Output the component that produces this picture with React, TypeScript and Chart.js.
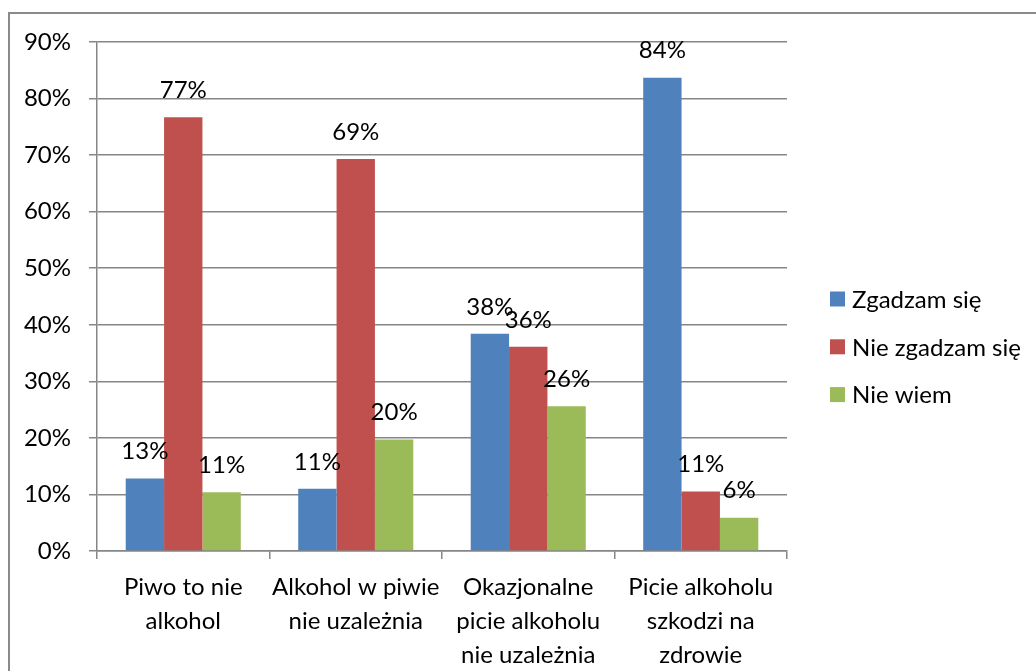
import React, { useEffect, useRef } from "react";
import { Chart, registerables } from "chart.js";

Chart.register(...registerables);

const categories: string[][] = [
  ["Piwo to nie", "alkohol"],
  ["Alkohol w piwie", "nie uzależnia"],
  ["Okazjonalne", "picie alkoholu", "nie uzależnia"],
  ["Picie alkoholu", "szkodzi na", "zdrowie"],
];
const seriesNames = ["Zgadzam się", "Nie zgadzam się", "Nie wiem"];
const seriesColors = ["#4F81BD", "#C0504D", "#9BBB59"];
const agree = [12.8, 11.0, 38.4, 83.7];
const disagree = [76.7, 69.3, 36.1, 10.5];
const dontKnow = [10.4, 19.7, 25.6, 5.9];
const labelsAgree = ["13%", "11%", "38%", "84%"];
const labelsDisagree = ["77%", "69%", "36%", "11%"];
const labelsDontKnow = ["11%", "20%", "26%", "6%"];
const yTicks = [0, 10, 20, 30, 40, 50, 60, 70, 80, 90];

const FONT = "Lato, 'Open Sans', sans-serif";
const FONT_SIZE = 24;
const GRID = "#868686";

const dataLabelPlugin = {
  id: "dataLabels",
  afterDatasetsDraw(chart: any) {
    const ctx = chart.ctx;
    ctx.save();
    ctx.font = `${FONT_SIZE}px ${FONT}`;
    ctx.fillStyle = "#000";
    ctx.textAlign = "center";
    ctx.textBaseline = "middle";
    chart.data.datasets.forEach((ds: any, di: number) => {
      const meta = chart.getDatasetMeta(di);
      meta.data.forEach((el: any, i: number) => {
        ctx.fillText(ds.valueLabels[i], el.x, el.y - 27);
      });
    });
    ctx.restore();
  },
};

const legendPlugin = {
  id: "customLegend",
  afterDraw(chart: any) {
    const ctx = chart.ctx;
    ctx.save();
    ctx.font = `${FONT_SIZE}px ${FONT}`;
    ctx.textAlign = "left";
    ctx.textBaseline = "middle";
    const x0 = 830;
    const yStart = 299;
    const step = 47.8;
    chart.data.datasets.forEach((ds: any, i: number) => {
      const cy = yStart + i * step;
      ctx.fillStyle = ds.backgroundColor;
      ctx.fillRect(x0, cy - 7.5, 15, 15);
      ctx.fillStyle = "#000";
      ctx.fillText(ds.label, x0 + 22, cy + 1);
    });
    ctx.restore();
  },
};

export default function App() {
  const ref = useRef<HTMLCanvasElement>(null);
  useEffect(() => {
    if (!ref.current) return;
    const mk = (i: number, data: number[], lbls: string[]) => ({
      label: seriesNames[i],
      data,
      valueLabels: lbls,
      backgroundColor: seriesColors[i],
      borderWidth: 0,
      categoryPercentage: 0.667,
      barPercentage: 1.0,
    });
    const chart = new Chart(ref.current, {
      type: "bar",
      data: {
        labels: categories as any,
        datasets: [
          mk(0, agree, labelsAgree),
          mk(1, disagree, labelsDisagree),
          mk(2, dontKnow, labelsDontKnow),
        ] as any,
      },
      options: {
        animation: false,
        responsive: false,
        devicePixelRatio: 1,
        layout: { padding: { top: 42, right: 249, left: 0, bottom: 0 } },
        plugins: {
          legend: { display: false },
          tooltip: { enabled: false },
        },
        scales: {
          x: {
            grid: {
              offset: true,
              drawOnChartArea: false,
              drawTicks: true,
              tickLength: 8,
              color: GRID,
              lineWidth: 1.5,
            },
            border: { color: GRID, width: 1.5 },
            ticks: {
              color: "#000",
              font: { family: FONT, size: FONT_SIZE, lineHeight: 1.42 },
              padding: 11,
              maxRotation: 0,
              autoSkip: false,
            },
            afterFit: (s: any) => {
              s.height = 120;
            },
          },
          y: {
            min: 0,
            max: 90,
            afterBuildTicks: (s: any) => {
              s.ticks = yTicks.map((v) => ({ value: v }));
            },
            grid: {
              color: GRID,
              lineWidth: 1.5,
              tickLength: 8,
              drawTicks: true,
            },
            border: { color: GRID, width: 1.5 },
            ticks: {
              color: "#000",
              font: { family: FONT, size: FONT_SIZE },
              padding: 18,
              callback: (v: any) => `${v}%`,
            },
            afterFit: (s: any) => {
              s.width = 97;
            },
          },
        },
      },
      plugins: [dataLabelPlugin, legendPlugin],
    } as any);
    return () => chart.destroy();
  }, []);
  return (
    <div
      style={{
        position: "fixed",
        left: 0,
        top: 0,
        width: 1036,
        height: 671,
        overflow: "hidden",
        background: "#fff",
      }}
    >
      <div
        style={{
          position: "absolute",
          left: 8,
          top: 12,
          width: 1100,
          height: 720,
          borderTop: "2px solid #8a8a8a",
          borderLeft: "2px solid #8a8a8a",
          boxSizing: "border-box",
        }}
      />
      <canvas
        ref={ref}
        width={1036}
        height={671}
        style={{ position: "absolute", left: 0, top: 0, width: 1036, height: 671 }}
      />
    </div>
  );
}
